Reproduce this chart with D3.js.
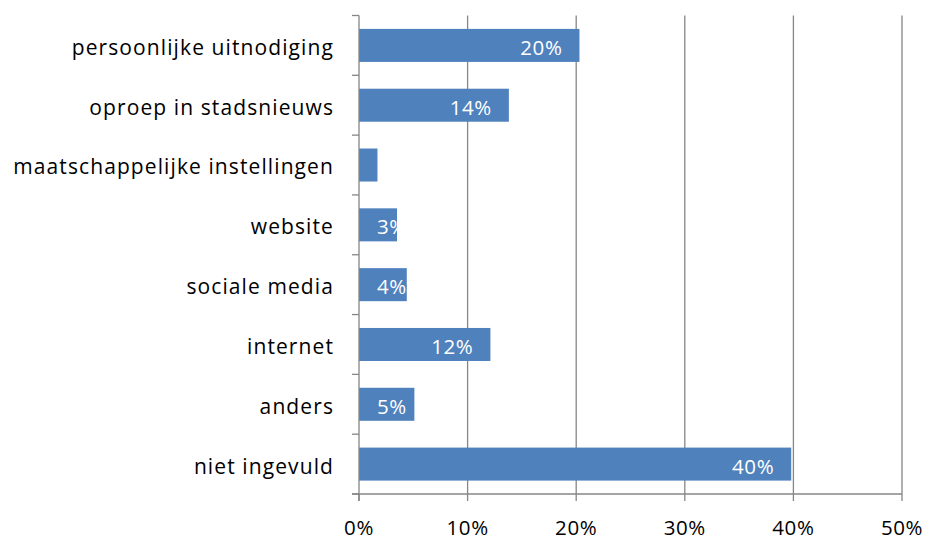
<!DOCTYPE html>
<html><head><meta charset="utf-8">
<script src="https://cdn.jsdelivr.net/npm/d3@7"></script>
<style>body{margin:0;background:#fff}svg{display:block}</style>
</head><body>
<svg id="c" width="929" height="540"></svg>
<script>
const categories = ["persoonlijke uitnodiging","oproep in stadsnieuws","maatschappelijke instellingen","website","sociale media","internet","anders","niet ingevuld"];
const values = [20.3, 13.8, 1.7, 3.5, 4.4, 12.1, 5.1, 39.8];
const valueLabels = ["20%","14%","2%","3%","4%","12%","5%","40%"];
const xTicks = [0,10,20,30,40,50];

(function(){
const svg = d3.select("#c");
const pLeft = 359, pRight = 902, pTop = 15.5, pBottom = 494;
const font = "'Open Sans', sans-serif";
const x = d3.scaleLinear().domain([0,50]).range([pLeft,pRight]);
const y = d3.scaleBand().domain(categories).range([pTop,pBottom]).paddingInner(0.448).paddingOuter(0.224);

// gridlines
svg.append("g").selectAll("line").data(xTicks.slice(1)).join("line")
  .attr("x1",d=>x(d)).attr("x2",d=>x(d)).attr("y1",pTop).attr("y2",pBottom)
  .attr("stroke","#868686").attr("stroke-width",1.3);

// bars
const defs = svg.append("defs");
categories.forEach((c,i)=>{
  defs.append("clipPath").attr("id","clip"+i).append("rect")
    .attr("x",x(0)).attr("y",y(c)).attr("width",x(values[i])-x(0)).attr("height",y.bandwidth());
});
svg.append("g").selectAll("rect").data(categories).join("rect")
  .attr("x",x(0)).attr("y",d=>y(d)).attr("width",(d,i)=>x(values[i])-x(0)).attr("height",y.bandwidth())
  .attr("fill","#4f81bd");

// value labels
const lg = svg.append("g");
categories.forEach((c,i)=>{
  const t = lg.append("text").attr("clip-path","url(#clip"+i+")")
    .attr("y",y(c)+y.bandwidth()/2).attr("dy","0.46em")
    .attr("fill","#fff").attr("font-family",font).attr("font-size",20.5).attr("letter-spacing",0.6)
    .text(valueLabels[i]);
  const w = t.node().getComputedTextLength();
  const rightEdge = Math.max(x(values[i])-17, 377 + w);
  t.attr("x", rightEdge - w);
});

// y axis
const yAxis = svg.append("g");
yAxis.append("line").attr("x1",pLeft).attr("x2",pLeft).attr("y1",pTop).attr("y2",pBottom+7)
  .attr("stroke","#868686").attr("stroke-width",1.3);
const bounds = categories.map(c=>y(c)-y.step()*y.paddingInner()/2).concat([pBottom]);
yAxis.selectAll("line.t").data(bounds).join("line").attr("class","t")
  .attr("x1",pLeft-7).attr("x2",pLeft).attr("y1",d=>d).attr("y2",d=>d)
  .attr("stroke","#868686").attr("stroke-width",1.3);
yAxis.selectAll("text").data(categories).join("text")
  .attr("x",pLeft-25).attr("y",d=>y(d)+y.bandwidth()/2).attr("dy","0.45em")
  .attr("text-anchor","end").attr("font-family",font).attr("font-size",21).attr("letter-spacing",1.1).attr("fill","#000")
  .text(d=>d);

// x axis
const xAxis = svg.append("g");
xAxis.append("line").attr("x1",pLeft-7).attr("x2",pRight).attr("y1",pBottom).attr("y2",pBottom)
  .attr("stroke","#868686").attr("stroke-width",1.3);
xAxis.selectAll("line.t").data(xTicks).join("line").attr("class","t")
  .attr("x1",d=>x(d)).attr("x2",d=>x(d)).attr("y1",pBottom).attr("y2",pBottom+7)
  .attr("stroke","#868686").attr("stroke-width",1.3);
xAxis.selectAll("text").data(xTicks).join("text")
  .attr("x",d=>x(d)).attr("y",527.5).attr("dy","0.36em").attr("text-anchor","middle")
  .attr("font-family",font).attr("font-size",20.5).attr("letter-spacing",0.6).attr("fill","#000")
  .text(d=>d+"%");
})();
</script>
</body></html>
